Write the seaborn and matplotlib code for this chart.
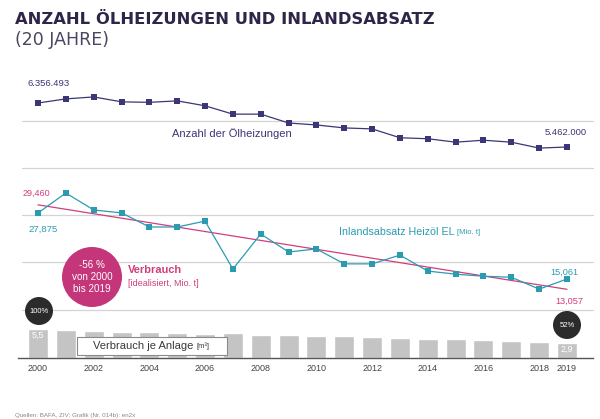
import matplotlib.pyplot as plt
import seaborn as sns
from matplotlib.patches import Circle, Rectangle

# --- data ---
years = list(range(2000, 2020))
heizungen = [6356493, 6440000, 6480000, 6380000, 6370000, 6400000, 6300000, 6130000, 6130000, 5950000,
             5910000, 5850000, 5830000, 5650000, 5630000, 5560000, 5600000, 5560000, 5440000, 5462000]
absatz = [27.875, 31.76, 28.46, 27.9, 25.16, 25.16, 26.3, 17.0, 23.8, 20.3,
          20.9, 18.0, 18.0, 19.7, 16.6, 16.0, 15.6, 15.4, 13.1, 15.061]
trend_years = [2000, 2019]
trend_values = [29.46, 13.057]
je_anlage = [5.5, 5.4, 5.1, 4.9, 4.9, 4.7, 4.6, 4.7, 4.3, 4.3,
             4.2, 4.2, 4.0, 3.8, 3.6, 3.6, 3.5, 3.3, 3.1, 2.9]
tick_years = [2000, 2002, 2004, 2006, 2008, 2010, 2012, 2014, 2016, 2018, 2019]

PURPLE = "#3b3676"
TEAL = "#2b9bb2"
PINK = "#cf3f7d"
DARK = "#2b2b2b"
TITLE = "#2e2548"
BAR = "#c4c4c4"

sns.set_theme(style="white")
plt.rcParams["font.family"] = ["Liberation Sans", "DejaVu Sans"]

W, H = 600, 419
fig = plt.figure(figsize=(W / 100, H / 100), dpi=100)
fig.patch.set_facecolor("white")


def px_axes(x0, y0, x1, y1, z):
    ax = fig.add_axes([x0 / W, 1 - y1 / H, (x1 - x0) / W, (y1 - y0) / H])
    ax.set_zorder(z)
    ax.patch.set_alpha(0)
    return ax


def lims(va, pa, vb, pb, top, bottom):
    # value range for an axes spanning pixel rows top..bottom, given two anchors
    k = (va - vb) / (pb - pa)
    return vb - (bottom - pb) * k, va + (pa - top) * k


# x scale shared by all panels: 2000 -> px 38, 2019 -> px 567
X0, X1 = 18, 593
ppy = (567 - 38) / 19
xlim = (2000 - (38 - X0) / ppy, 2019 + (X1 - 567) / ppy)

# background with grid lines (pixel coordinates)
bg = px_axes(0, 0, W, H, 0)
bg.set_xlim(0, W)
bg.set_ylim(H, 0)
bg.axis("off")
for gy in [121, 168, 215, 262, 310]:
    bg.plot([22, 593], [gy, gy], color="#d4d4d4", lw=0.9)

# top panel: number of oil heatings
ax1 = px_axes(X0, 60, X1, 165, 2)
sns.lineplot(x=years, y=heizungen, ax=ax1, color=PURPLE, marker="s", markersize=4.2,
             markeredgewidth=0, linewidth=0.9)
ax1.set_xlim(*xlim)
ax1.set_ylim(*lims(6356493, 103, 5462000, 147, 60, 165))
ax1.axis("off")

# middle panel: domestic sales + idealised trend
ax2 = px_axes(X0, 170, X1, 300, 2)
sns.lineplot(x=trend_years, y=trend_values, ax=ax2, color=PINK, linewidth=0.9)
sns.lineplot(x=years, y=absatz, ax=ax2, color=TEAL, marker="s", markersize=4.2,
             markeredgewidth=0, linewidth=0.9)
ax2.set_xlim(*xlim)
ax2.set_ylim(*lims(27.875, 213, 15.061, 279, 170, 300))
ax2.axis("off")

# bottom panel: consumption per installation
ax3 = px_axes(X0, 300, X1, 358, 1)
sns.barplot(x=years, y=je_anlage, ax=ax3, native_scale=True, width=0.72, color=BAR, saturation=1)
ax3.set_xlim(*xlim)
ax3.set_ylim(0, 58 / 5.27)
for s in ["top", "left", "right"]:
    ax3.spines[s].set_visible(False)
ax3.spines["bottom"].set_color("#555555")
ax3.spines["bottom"].set_linewidth(1)
ax3.set_yticks([])
ax3.set_xticks(tick_years)
ax3.set_xticklabels([str(y) for y in tick_years])
ax3.tick_params(axis="x", length=0, pad=4, labelsize=6.5, colors="#444444")
ax3.set_xlabel("")
ax3.set_ylabel("")
for yr, v in [(years[0], je_anlage[0]), (years[-1], je_anlage[-1])]:
    ax3.text(yr, v - 0.35, f"{v:.1f}".replace(".", ","), ha="center", va="top",
             color="white", fontsize=6.5)

# overlay: titles, labels, badges
fg = px_axes(0, 0, W, H, 5)
fg.set_xlim(0, W)
fg.set_ylim(H, 0)
fg.axis("off")

fg.text(15, 20, "ANZAHL ÖLHEIZUNGEN UND INLANDSABSATZ", family="DejaVu Sans", weight="bold",
        fontsize=11.8, color=TITLE, va="center")
fg.text(15, 40, "(20 JAHRE)", family="DejaVu Sans", fontsize=12.5, color="#4a4560", va="center")

fg.text(28, 84, "6.356.493", fontsize=6.8, color=PURPLE, va="center")
fg.text(587, 132, "5.462.000", fontsize=6.8, color=PURPLE, va="center", ha="right")
fg.text(172, 134, "Anzahl der Ölheizungen", fontsize=8, color=PURPLE, va="center")

fg.text(23, 193, "29,460", fontsize=6.5, color=PINK, va="center")
fg.text(28, 229, "27,875", fontsize=6.8, color=TEAL, va="center")
t_ia = fg.text(339, 232, "Inlandsabsatz Heizöl EL", fontsize=7.7, color=TEAL, va="center")
fg.annotate("[Mio. t]", xy=(1, 0.45), xycoords=t_ia, xytext=(2, 0), textcoords="offset points",
            fontsize=5.5, color=TEAL, va="center")
fg.text(564, 272, "15,061", fontsize=6.6, color=TEAL, va="center", ha="center")
fg.text(569, 301, "13,057", fontsize=6.6, color=PINK, va="center", ha="center")

fg.add_patch(Circle((92, 277), 30, color="#c4357a", lw=0))
fg.text(92, 277, "-56 %\nvon 2000\nbis 2019", fontsize=7.1, color="white", ha="center",
        va="center", linespacing=1.25)
fg.text(128, 270, "Verbrauch", fontsize=7.9, weight="bold", color=PINK, va="center")
fg.text(128, 283, "[idealisiert, Mio. t]", fontsize=6.5, color=PINK, va="center")

fg.add_patch(Circle((39, 311), 14, color=DARK, lw=0))
fg.text(39, 311, "100%", fontsize=5.5, color="white", ha="center", va="center")
fg.add_patch(Circle((567, 325), 14, color=DARK, lw=0))
fg.text(567, 325, "52%", fontsize=5.5, color="white", ha="center", va="center")

fg.add_patch(Rectangle((77, 337), 150, 18, facecolor="white", edgecolor="#8a8a8a", lw=0.8))
t_va = fg.text(93, 346, "Verbrauch je Anlage", fontsize=8, color="#3a3a3a", va="center")
fg.annotate("[m³]", xy=(1, 0.45), xycoords=t_va, xytext=(2.5, 0), textcoords="offset points",
            fontsize=5.5, color="#3a3a3a", va="center")

fg.text(15, 415, "Quellen: BAFA, ZIV; Grafik (Nr. 014b): en2x", fontsize=4.5, color="#888888",
        va="center")

fig.savefig("out.png", dpi=100, facecolor="white")
